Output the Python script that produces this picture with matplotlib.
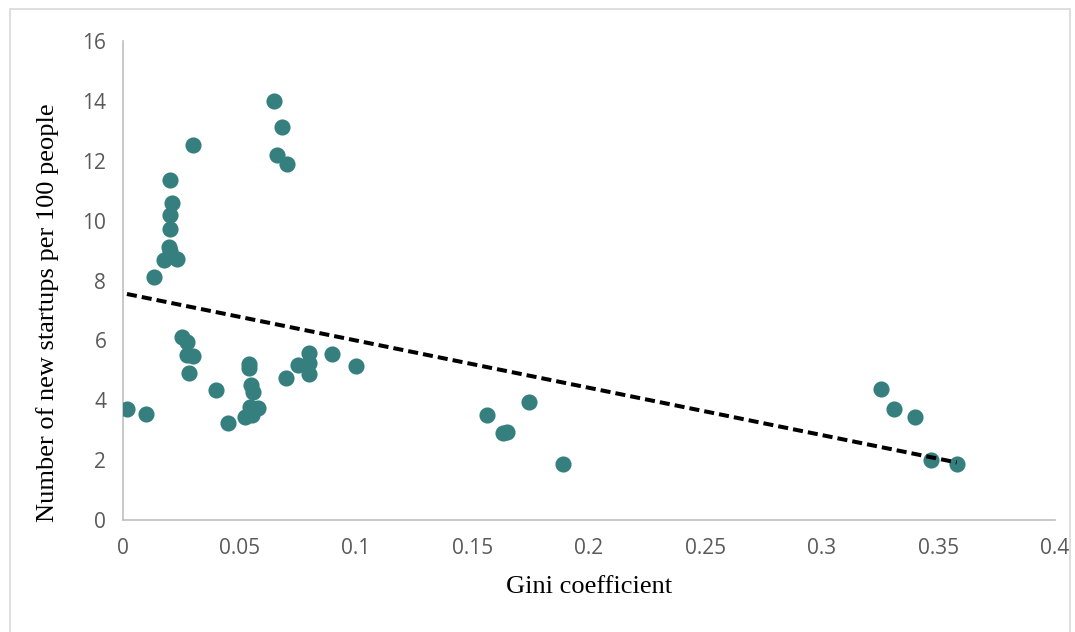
import numpy as np
import matplotlib
matplotlib.use("Agg")
import matplotlib.pyplot as plt
from matplotlib.patches import Rectangle

# Gini coefficient vs. number of new startups per 100 people
gini = [0.0017, 0.0099, 0.0133, 0.0176, 0.0232, 0.0199, 0.0200, 0.0202, 0.0202,
        0.0209, 0.0203, 0.0299, 0.0650, 0.0681, 0.0660, 0.0703,
        0.0252, 0.0276, 0.0273, 0.0299, 0.0285, 0.0399, 0.0452,
        0.0540, 0.0542, 0.0549, 0.0559, 0.0545, 0.0581, 0.0552, 0.0524,
        0.0698, 0.0753, 0.0800, 0.0800, 0.0797, 0.0898, 0.0999,
        0.1564, 0.1744, 0.1630, 0.1650, 0.1887,
        0.3252, 0.3310, 0.3399, 0.3467, 0.3578]
startups = [3.70, 3.53, 8.12, 8.68, 8.72, 9.13, 9.00, 9.74, 10.19,
            10.58, 11.36, 12.52, 13.99, 13.14, 12.19, 11.91,
            6.12, 5.96, 5.51, 5.49, 4.93, 4.34, 3.26,
            5.23, 5.07, 4.51, 4.27, 3.78, 3.76, 3.51, 3.43,
            4.75, 5.18, 5.59, 5.25, 4.87, 5.54, 5.14,
            3.51, 3.93, 2.90, 2.96, 1.87,
            4.37, 3.70, 3.45, 2.00, 1.89]

# linear trend line as shown in the chart
trend_intercept = 7.58
trend_slope = -15.8

xticks = [0, 0.05, 0.1, 0.15, 0.2, 0.25, 0.3, 0.35, 0.4]
xticklabels = ['0', '0.05', '0.1', '0.15', '0.2', '0.25', '0.3', '0.35', '0.4']
yticks = [0, 2, 4, 6, 8, 10, 12, 14, 16]

x = np.array(gini)
y = np.array(startups)

fig = plt.figure(figsize=(10.75, 6.32), dpi=100)
ax = fig.add_axes([0.1144, 0.177, 0.867, 0.758])

ax.scatter(x, y, s=135, color='#357F7E', zorder=3, linewidths=0)

xt = np.array([x.min(), x.max()])
ax.plot(xt, trend_intercept + trend_slope * xt, color='black',
        linestyle=(0, (2.5, 1.25)), linewidth=2.9, zorder=4)

ax.set_xlim(0, 0.4)
ax.set_ylim(0, 16)
ax.set_xticks(xticks)
ax.set_xticklabels(xticklabels)
ax.set_yticks(yticks)
ax.tick_params(length=0, labelsize=15, labelcolor='#595959')
ax.tick_params(axis='x', pad=13)
ax.tick_params(axis='y', pad=12)
for lab in ax.get_xticklabels() + ax.get_yticklabels():
    lab.set_family('Open Sans')

for side in ['top', 'right']:
    ax.spines[side].set_visible(False)
for side in ['left', 'bottom']:
    ax.spines[side].set_color('#BFBFBF')
    ax.spines[side].set_linewidth(1.2)

ax.set_xlabel('Gini coefficient', family='Liberation Serif', fontsize=19, labelpad=12)
ax.set_ylabel('Number of new startups per 100 people', family='Liberation Serif',
              fontsize=19)
ax.yaxis.set_label_coords(-0.069, 0.433)

fig.patches.append(Rectangle((0.009, -0.01), 0.986, 0.995, transform=fig.transFigure,
                             fill=False, edgecolor='#D9D9D9', linewidth=1.2))

fig.savefig('out.png', dpi=100)
